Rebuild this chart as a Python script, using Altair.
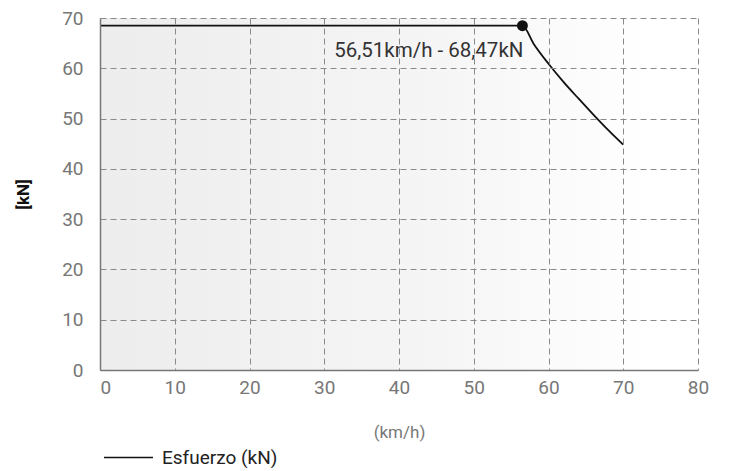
import altair as alt
import pandas as pd

speed = [0, 56.51, 58, 60, 62, 64, 66, 68, 70]
force = [68.47, 68.47, 64.9, 60.9, 57.3, 54.0, 50.8, 47.7, 44.8]
series = "Esfuerzo (kN)"
peak_speed = 56.51
peak_force = 68.47
peak_label = "56,51km/h - 68,47kN"
x_ticks = [0, 10, 20, 30, 40, 50, 60, 70, 80]
y_ticks = [0, 10, 20, 30, 40, 50, 60, 70]

W, H = 598, 352
FONT = "Roboto"

df = pd.DataFrame({"v": speed, "f": force, "s": [series] * len(speed)})
peak = pd.DataFrame({"v": [peak_speed], "f": [peak_force], "t": [peak_label]})

xs = alt.Scale(domain=[0, 80], nice=False, zero=True)
ys = alt.Scale(domain=[0, 70], nice=False)

bg = alt.Chart(pd.DataFrame({"a": [0]})).mark_rect(
    color=alt.LinearGradient(
        gradient="linear",
        stops=[alt.GradientStop(color="#ededed", offset=0),
               alt.GradientStop(color="#f5f5f5", offset=0.55),
               alt.GradientStop(color="#ffffff", offset=0.92)],
        x1=0, x2=1, y1=0, y2=0,
    )
).encode(x=alt.value(0), x2=alt.value(W), y=alt.value(0), y2=alt.value(H))

line = alt.Chart(df).mark_line(strokeWidth=1.8, interpolate="monotone").encode(
    x=alt.X("v:Q", scale=xs,
            axis=alt.Axis(values=x_ticks, title="(km/h)", zindex=1,
                          labelAlign=alt.expr("datum.value == 0 ? 'left' : 'center'"),
                          labelFlush=False)),
    y=alt.Y("f:Q", scale=ys,
            axis=alt.Axis(values=y_ticks, title="[kN]", zindex=1)),
    color=alt.Color("s:N", scale=alt.Scale(domain=[series], range=["#111111"]),
                    legend=alt.Legend(title=None, orient="none", legendX=3,
                                      legendY=414, symbolType="stroke",
                                      symbolSize=2400, symbolStrokeWidth=1.5,
                                      labelFont=FONT, labelFontSize=19,
                                      labelColor="#222222", labelOffset=8)),
)

pt = alt.Chart(peak).mark_point(filled=True, size=120, color="#111111", opacity=1).encode(
    x=alt.X("v:Q", scale=xs), y=alt.Y("f:Q", scale=ys)
)

txt = alt.Chart(peak).mark_text(
    align="right", baseline="middle", dy=25, dx=1, fontSize=20.5, font=FONT, color="#333333"
).encode(x=alt.X("v:Q", scale=xs), y=alt.Y("f:Q", scale=ys), text="t:N")

chart = alt.layer(bg, line, pt, txt).properties(
    width=W, height=H,
    autosize=alt.AutoSizeParams(type="none"),
    padding={"left": 92, "top": 10, "right": 21, "bottom": 99},
).configure_view(stroke=None).configure_axis(
    grid=True, gridColor="#8a8a8a", gridDash=[6, 4], gridWidth=1,
    domainColor="#777777", domainWidth=1.5, ticks=False, zindex=1,
    labelFont=FONT, labelFontSize=19, labelColor="#777777",
    titleFont=FONT,
).configure_axisX(
    labelPadding=8, titleFontSize=17, titleColor="#777777", titleFontWeight="normal",
    titlePadding=27,
).configure_axisY(
    labelPadding=17, titleFontSize=17, titleColor="#111111", titleFontWeight="bold",
    titlePadding=29,
)

chart.save("out.html", embed_options={"renderer": "svg", "actions": False})
